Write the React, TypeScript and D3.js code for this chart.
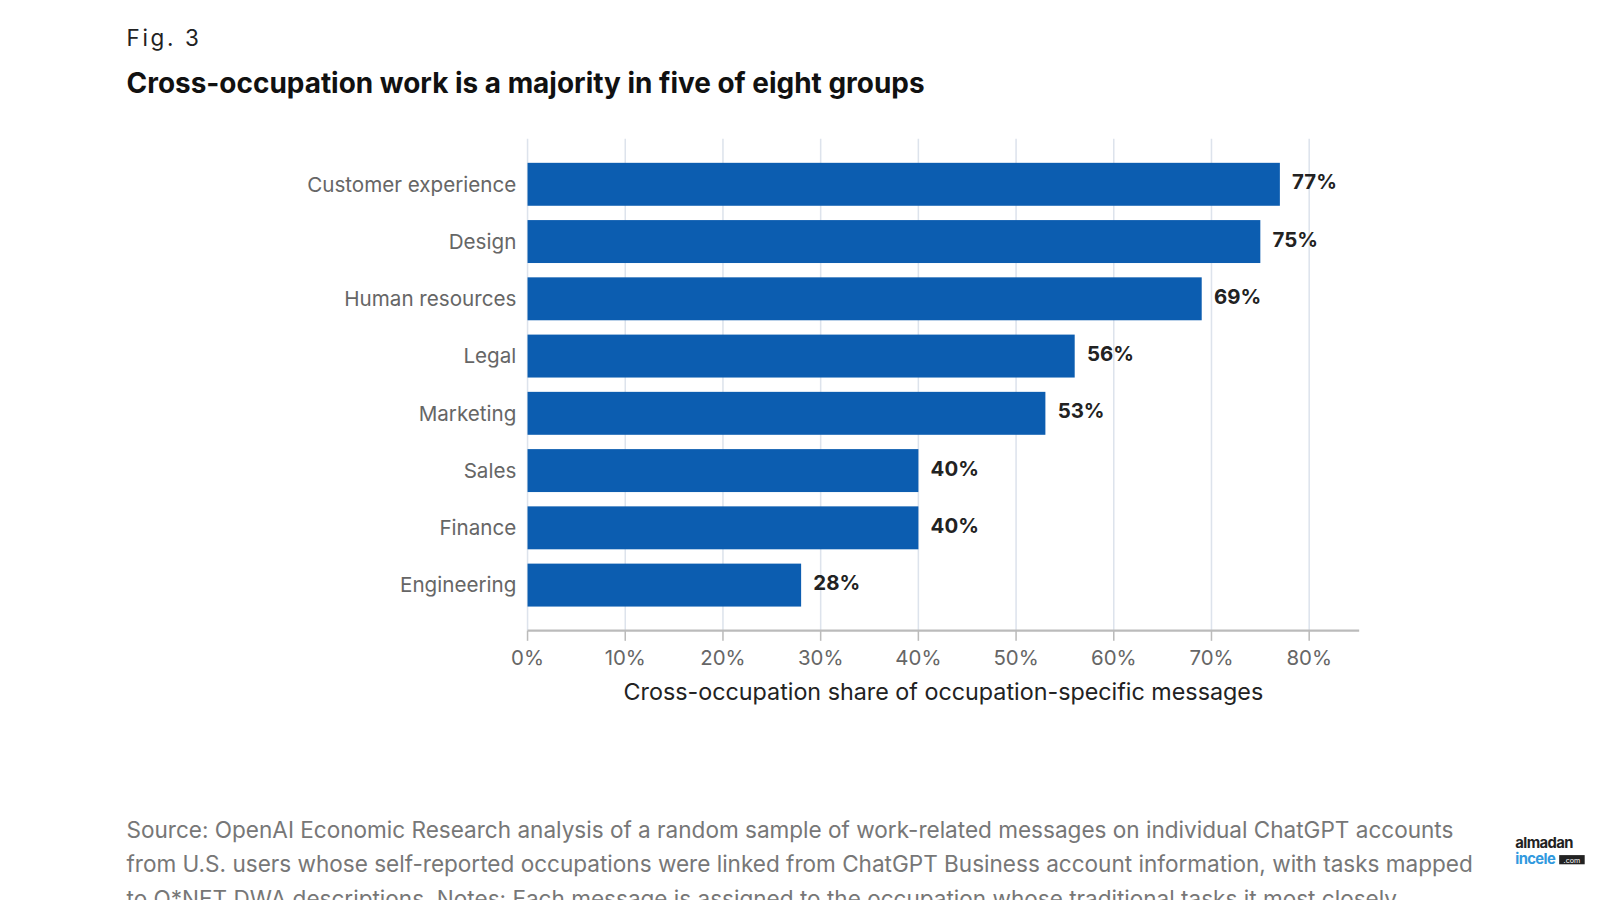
import React from 'react';
import { scaleLinear, scaleBand, range } from 'd3';

const categories: string[] = [
  'Customer experience',
  'Design',
  'Human resources',
  'Legal',
  'Marketing',
  'Sales',
  'Finance',
  'Engineering',
];
const shares: number[] = [77, 75, 69, 56, 53, 40, 40, 28];
const xTicks: number[] = [0, 10, 20, 30, 40, 50, 60, 70, 80];

const sourceLines: string[] = [
  'Source: OpenAI Economic Research analysis of a random sample of work-related messages on individual ChatGPT accounts',
  'from U.S. users whose self-reported occupations were linked from ChatGPT Business account information, with tasks mapped',
  'to O*NET DWA descriptions. Notes: Each message is assigned to the occupation whose traditional tasks it most closely',
];

const W = 1600;
const H = 900;
// layout was measured on a 1568-wide copy, so scale it up to the page
const K = 1600 / 1568;
const FONT = 'Inter, "Noto Sans", sans-serif';
const BAR = '#0c5db0';

export default function App() {
  const x = scaleLinear().domain([0, 80]).range([517, 1283]);
  const y = scaleBand<string>()
    .domain(categories)
    .range([136, 618])
    .paddingInner(0.25)
    .paddingOuter(0.42);

  const axisY = 618;

  return (
    <svg
      width={W}
      height={H}
      style={{ position: 'absolute', left: 0, top: 0, background: '#fff' }}
      fontFamily={FONT}
    >
      <rect width={W} height={H} fill="#fff" />
      <g transform={`scale(${K})`}>
        <text x={124} y={45} fontSize={22} letterSpacing={2.6} fill="#222">
          Fig. 3
        </text>
        <text x={124} y={91} fontSize={27.4} fontWeight={700} fill="#111">
          Cross-occupation work is a majority in five of eight groups
        </text>

        {/* grid */}
        {xTicks.map(t => (
          <line
            key={'g' + t}
            x1={x(t)}
            x2={x(t)}
            y1={136}
            y2={axisY}
            stroke="#dde3ec"
            strokeWidth={1.5}
          />
        ))}

        {/* bars */}
        {categories.map((c, i) => (
          <g key={c}>
            <rect
              x={x(0)}
              y={y(c)}
              width={x(shares[i]) - x(0)}
              height={y.bandwidth()}
              fill={BAR}
            />
            <text
              x={506}
              y={(y(c) as number) + y.bandwidth() / 2}
              dy="0.35em"
              textAnchor="end"
              fontSize={20.2}
              fill="#666"
            >
              {c}
            </text>
            <text
              x={x(shares[i]) + 12}
              y={(y(c) as number) + y.bandwidth() / 2 - 2}
              dy="0.35em"
              fontSize={20}
              fontWeight={700}
              fill="#222"
            >
              {shares[i]}%
            </text>
          </g>
        ))}

        {/* x axis */}
        <line x1={x(0)} x2={1332} y1={axisY} y2={axisY} stroke="#bbb" strokeWidth={2} />
        {xTicks.map(t => (
          <g key={'t' + t}>
            <line x1={x(t)} x2={x(t)} y1={axisY} y2={axisY + 10} stroke="#bbb" strokeWidth={1.5} />
            <text x={x(t)} y={652} textAnchor="middle" fontSize={20} fill="#666">
              {t}%
            </text>
          </g>
        ))}
        <text x={(x(0) + 1332) / 2} y={686} textAnchor="middle" fontSize={22.85} fill="#222">
          Cross-occupation share of occupation-specific messages
        </text>

        {/* source */}
        {range(sourceLines.length).map(i => (
          <text key={'s' + i} x={124} y={821 + i * 34} fontSize={22.1} fill="#777">
            {sourceLines[i]}
          </text>
        ))}

        {/* logo */}
        <rect x={1528} y={838} width={25} height={9} fill="#222" />
        <text fontSize={14.5} fontWeight={700} letterSpacing={-0.6}>
          <tspan x={1485} y={831} fill="#222">almadan</tspan>
          <tspan x={1485} y={847} fill="#3199de">incele</tspan>
          <tspan x={1540.5} y={845.5} fontSize={7} fontWeight={400} letterSpacing={0} textAnchor="middle" fill="#fff">.com</tspan>
        </text>
      </g>
    </svg>
  );
}
